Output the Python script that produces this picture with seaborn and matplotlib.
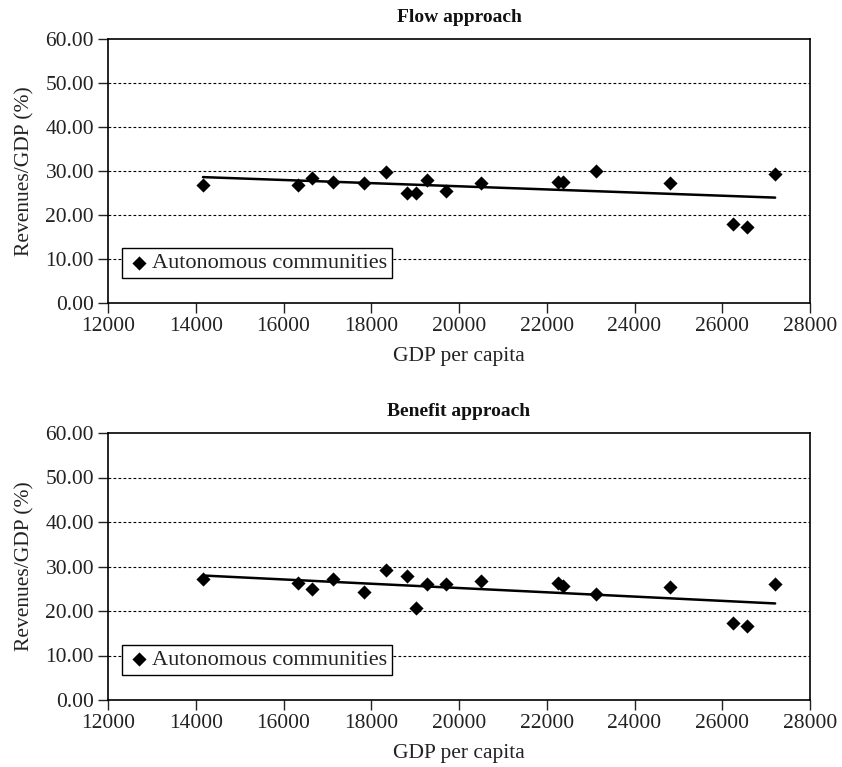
import matplotlib
matplotlib.use("Agg")
import matplotlib.pyplot as plt
import seaborn as sns
import pandas as pd
import numpy as np

# GDP per capita of each autonomous community
gdp_per_capita = [14165, 16330, 16650, 17120, 17830, 18335, 18805, 19025, 19275,
                  19705, 20500, 22255, 22370, 23115, 24810, 26245, 26565, 27205]
# Revenues/GDP (%) - flow approach
flow_values = [26.8, 26.8, 28.3, 27.5, 27.2, 29.7, 25.0, 25.0, 28.0,
               25.4, 27.3, 27.6, 27.6, 30.0, 27.2, 17.9, 17.2, 29.3]
# Revenues/GDP (%) - benefit approach
benefit_values = [27.1, 26.4, 24.9, 27.2, 24.3, 29.3, 27.9, 20.7, 26.1,
                  26.1, 26.8, 26.4, 25.6, 23.9, 25.3, 17.2, 16.7, 26.1]

titles = ["Flow approach", "Benefit approach"]
series_label = "Autonomous communities"
x_label = "GDP per capita"
y_label = "Revenues/GDP (%)"
x_ticks = [12000, 14000, 16000, 18000, 20000, 22000, 24000, 26000, 28000]
y_ticks = [0, 10, 20, 30, 40, 50, 60]

sns.set_style("white")
plt.rcParams["font.family"] = ["Liberation Serif", "DejaVu Serif"]

fig = plt.figure(figsize=(8.42, 7.67), dpi=100)
W, H = 842, 767
boxes = [(108, 39, 810, 303), (108, 433, 810, 700)]

for (l, t, r, b), title, vals in zip(boxes, titles, [flow_values, benefit_values]):
    ax = fig.add_axes([l / W, 1 - b / H, (r - l) / W, (b - t) / H])
    df = pd.DataFrame({"gdp": gdp_per_capita, "rev": vals})
    sns.regplot(data=df, x="gdp", y="rev", scatter=False, ci=None, truncate=True,
                color="black", line_kws={"lw": 1.8, "zorder": 3}, ax=ax)
    sns.scatterplot(data=df, x="gdp", y="rev", marker="D", s=52, color="black",
                    edgecolor="black", linewidth=0, label=series_label, ax=ax, zorder=4)
    ax.set_xlim(12000, 28000)
    ax.set_ylim(0, 60)
    ax.set_xticks(x_ticks)
    ax.set_yticks(y_ticks)
    ax.set_yticklabels([f"{v:.2f}" for v in y_ticks])
    ax.set_xticklabels([str(v) for v in x_ticks])
    for v in y_ticks[1:-1]:
        ax.axhline(v, color="black", lw=0.8, ls=(0, (2.5, 2)), zorder=1)
    for s in ax.spines.values():
        s.set_color("black")
        s.set_linewidth(1.2)
    ax.tick_params(axis="both", direction="out", length=7, width=1.0,
                   labelsize=15.5, colors="#222222", pad=3,
                   left=True, bottom=True, top=False, right=False)
    ax.set_xlabel(x_label, fontsize=15.5, color="#222222", labelpad=8)
    ax.set_ylabel(y_label, fontsize=15.5, color="#222222", labelpad=8)
    ax.set_title(title, fontsize=14, fontweight="bold", pad=12, color="#111111")
    leg = ax.legend(loc="lower left", bbox_to_anchor=(0.02, 0.095), borderaxespad=0,
                    frameon=True, fancybox=False, fontsize=16, handletextpad=0.05,
                    borderpad=0.2, handlelength=1.1, markerscale=1.0)
    leg.get_frame().set_edgecolor("black")
    leg.get_frame().set_linewidth(1.0)
    leg.get_frame().set_alpha(1)
    for tx in leg.get_texts():
        tx.set_color("#222222")

fig.savefig("out.png", dpi=100)
